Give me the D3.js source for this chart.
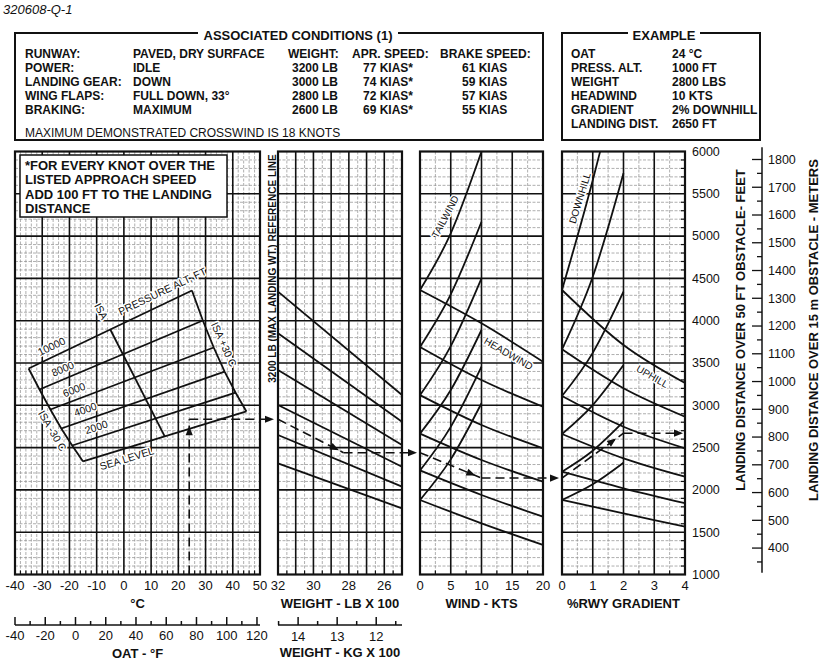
<!DOCTYPE html>
<html><head><meta charset="utf-8">
<script src="https://cdn.jsdelivr.net/npm/d3@7"></script>
<style>
body{margin:0;background:#fff;}
svg{display:block;font-family:"Liberation Sans",Arial,Helvetica,sans-serif;}
</style></head><body>
<svg id="c" width="820" height="660"></svg>
<script>
// ================= DATA =================
const chartId = "320608-Q-1";
const condLabels = ["RUNWAY:", "POWER:", "LANDING GEAR:", "WING FLAPS:", "BRAKING:"];
const condValues = ["PAVED, DRY SURFACE", "IDLE", "DOWN", "FULL DOWN, 33°", "MAXIMUM"];
const weightRows = ["3200 LB", "3000 LB", "2800 LB", "2600 LB"];
const aprSpeeds = ["77 KIAS*", "74 KIAS*", "72 KIAS*", "69 KIAS*"];
const brakeSpeeds = ["61 KIAS", "59 KIAS", "57 KIAS", "55 KIAS"];
const exampleLabels = ["OAT", "PRESS. ALT.", "WEIGHT", "HEADWIND", "GRADIENT", "LANDING DIST."];
const exampleValues = ["24 °C", "1000 FT", "2800 LBS", "10 KTS", "2% DOWNHILL", "2650 FT"];
const noteLines = ["*FOR EVERY KNOT OVER THE", "LISTED APPROACH SPEED", "ADD 100 FT TO THE LANDING", "DISTANCE"];

const tempTicks = [-40, -30, -20, -10, 0, 10, 20, 30, 40, 50];          // °C
const oatFTicks = [-40, -20, 0, 20, 40, 60, 80, 100, 120];              // °F labels
const weightTicks = [32, 30, 28, 26];                                    // LB x 100
const kgTicks = [14, 13, 12];                                            // KG x 100
const windTicks = [0, 5, 10, 15, 20];
const gradTicks = [0, 1, 2, 3, 4];
const feetTicks = [1000, 1500, 2000, 2500, 3000, 3500, 4000, 4500, 5000, 5500, 6000];
const meterTicks = [400, 500, 600, 700, 800, 900, 1000, 1100, 1200, 1300, 1400, 1500, 1600, 1700, 1800];

// pressure altitude lines: [ISA-30 end] -> [ISA+30 end] as (°C, ft)
const altNames = ["SEA LEVEL", "2000", "4000", "6000", "8000", "10000"];
const altLeftTemp = [-15, -19, -23, -27, -31, -35];
const altLeftFt = [2336, 2525, 2726, 2950, 3187, 3435];
const altRightTemp = [45, 41, 37, 33, 29, 25];
const altRightFt = [2927, 3151, 3399, 3683, 4002, 4357];
const isaTemp = [-5, 15];
const isaFt = [3896, 2632];

// weight guide lines (ft at 3200 lb, ft at 2500 lb)
const weightEnds = [3200, 2500];
const weightLines = [[4343, 3122], [3851, 2806], [3417, 2531], [3004, 2274], [2649, 2038], [2314, 1782]];

// wind guide lines: headwind at 0/10/20 kts, tailwind at 0/5/10 kts
const headKts = [0, 10, 20];
const headwind = [[4363, 3969, 3515], [3690, 3299, 2983], [3120, 2767, 2492], [2665, 2353, 2097], [2230, 1940, 1683], [1881, 1605, 1349]];
const tailKts = [0, 5, 10];
const tailwind = [[4363, 5033, 6000], [3690, 4312, 5170], [3120, 3700, 4501], [2665, 3180, 3890], [2230, 2745, 3456], [1881, 2361, 3024]];

// runway gradient guide lines: uphill at 0/2/4 %, downhill (pct, ft)
const upPct = [0, 2, 4];
const uphill = [[4363, 3713, 3264], [3662, 3201, 2865], [3110, 2747, 2492], [2661, 2373, 2156], [2215, 2019, 1842], [1881, 1723, 1565]];
const downhill = [
  [[0, 4363], [1, 5660], [1.24, 6000]],
  [[0, 3662], [1, 4520], [2, 5742]],
  [[0, 3110], [1, 3620], [2, 4343]],
  [[0, 2661], [1, 3003], [2, 3476]],
  [[0, 2215], [1, 2463], [2, 2806]],
  [[0, 1881], [1, 2066], [2, 2321]]
];

// example path
const exOAT = 24, exWeight = 2830, exWind = 10, exGrad = 2;
const exFt = [2835, 2440, 2140, 2670];

// ================= SCALES =================
const svg = d3.select("#c");
const yFt = d3.scaleLinear([1000, 6000], [574.5, 151.5]);
const xT = d3.scaleLinear([-40, 50], [15, 260]);
const xW = d3.scaleLinear([3200, 2500], [278, 402]);
const xK = d3.scaleLinear([0, 20], [420, 543]);
const xG = d3.scaleLinear([0, 4], [562, 685]);
const yTop = yFt(6000), yBot = yFt(1000);

function txt(g, x, y, s, o = {}) {
  const t = g.append("text").attr("x", x).attr("y", y).text(s)
    .attr("font-size", o.size || 12).attr("font-weight", o.bold ? "bold" : "normal")
    .attr("text-anchor", o.anchor || "start").attr("fill", "#111");
  if (o.italic) t.attr("font-style", "italic");
  if (o.dy) t.attr("dy", o.dy);
  if (o.rot !== undefined) t.attr("transform", `rotate(${o.rot},${x},${y})`);
  if (o.halo) t.attr("stroke", "#fff").attr("stroke-width", o.halo).attr("paint-order", "stroke").attr("stroke-linejoin", "round");
  return t;
}

// ================= HEADER =================
txt(svg, 3, 14, chartId, {size: 13, italic: true});

const hdr = svg.append("g");
hdr.append("rect").attr("x", 15).attr("y", 33).attr("width", 528).attr("height", 107)
  .attr("fill", "none").attr("stroke", "#111").attr("stroke-width", 2);
hdr.append("rect").attr("x", 198).attr("y", 28).attr("width", 200).attr("height", 10).attr("fill", "#fff");
txt(hdr, 298, 39.5, "ASSOCIATED CONDITIONS (1)", {size: 13, bold: true, anchor: "middle"});
const rowY = i => 57.5 + i * 14;
condLabels.forEach((s, i) => txt(hdr, 25, rowY(i), s, {bold: true}));
condValues.forEach((s, i) => txt(hdr, 133, rowY(i), s, {bold: true}));
txt(hdr, 288, rowY(0), "WEIGHT:", {bold: true});
txt(hdr, 352, rowY(0), "APR. SPEED:", {bold: true});
txt(hdr, 440, rowY(0), "BRAKE SPEED:", {bold: true});
weightRows.forEach((s, i) => txt(hdr, 292, rowY(i + 1), s, {bold: true}));
aprSpeeds.forEach((s, i) => txt(hdr, 363, rowY(i + 1), s, {bold: true}));
brakeSpeeds.forEach((s, i) => txt(hdr, 462, rowY(i + 1), s, {bold: true}));
txt(hdr, 25, 136.5, "MAXIMUM DEMONSTRATED CROSSWIND IS 18 KNOTS", {size: 12});

hdr.append("rect").attr("x", 562).attr("y", 33).attr("width", 198).attr("height", 107)
  .attr("fill", "none").attr("stroke", "#111").attr("stroke-width", 2);
hdr.append("rect").attr("x", 628).attr("y", 28).attr("width", 72).attr("height", 10).attr("fill", "#fff");
txt(hdr, 664, 39.5, "EXAMPLE", {size: 13, bold: true, anchor: "middle"});
exampleLabels.forEach((s, i) => txt(hdr, 571, rowY(i), s, {bold: true}));
exampleValues.forEach((s, i) => txt(hdr, 672, rowY(i), s, {bold: true}));

// ================= GRIDS =================
const hMinor = d3.range(1100, 6000, 100).filter(v => v % 500 !== 0);
const hMajor = d3.range(1500, 6000, 500);

function panel(x, vMajor, vMinor, tickPos) {
  const g = svg.append("g");
  const [x0, x1] = x.range();
  const minorStyle = s => s.attr("stroke", "#8c8c8c").attr("stroke-width", 0.7).attr("stroke-dasharray", "3,1.5");
  minorStyle(g.selectAll(null).data(vMinor).join("line")
    .attr("x1", d => x(d)).attr("x2", d => x(d)).attr("y1", yTop).attr("y2", yBot));
  minorStyle(g.selectAll(null).data(hMinor).join("line")
    .attr("x1", x0).attr("x2", x1).attr("y1", d => yFt(d)).attr("y2", d => yFt(d)));
  g.selectAll(null).data(tickPos).join("line")
    .attr("x1", d => x(d)).attr("x2", d => x(d)).attr("y1", yBot).attr("y2", yBot - 4)
    .attr("stroke", "#111").attr("stroke-width", 1.2);
  g.selectAll(null).data(vMajor).join("line")
    .attr("x1", d => x(d)).attr("x2", d => x(d)).attr("y1", yTop).attr("y2", yBot)
    .attr("stroke", "#111").attr("stroke-width", 1.6);
  g.selectAll(null).data(hMajor).join("line")
    .attr("x1", x0).attr("x2", x1).attr("y1", d => yFt(d)).attr("y2", d => yFt(d))
    .attr("stroke", "#111").attr("stroke-width", 1.6);
  return g;
}
const tMinor = d3.range(-38, 50, 2).filter(v => v % 10 !== 0);
panel(xT, d3.range(-30, 50, 10), tMinor, tMinor);
const wMinor = d3.range(3150, 2500, -100);
panel(xW, d3.range(3100, 2500, -100), wMinor, wMinor);
panel(xK, [5, 10, 15], [2.5, 7.5, 12.5, 17.5], [2.5, 7.5, 12.5, 17.5]);
panel(xG, [1, 2, 3], [0.5, 1.5, 2.5, 3.5], [0.5, 1.5, 2.5, 3.5]);
// feet ticks on right edge of gradient panel
svg.append("g").selectAll(null).data(hMinor).join("line")
  .attr("x1", xG(4)).attr("x2", xG(4) - 4).attr("y1", d => yFt(d)).attr("y2", d => yFt(d))
  .attr("stroke", "#111").attr("stroke-width", 1.2);

// note box
const note = svg.append("g");
note.append("rect").attr("x", 20).attr("y", 155).attr("width", 207).attr("height", 62)
  .attr("fill", "#fff").attr("stroke", "#111").attr("stroke-width", 1.5);
noteLines.forEach((s, i) => txt(note, 25, 169.5 + i * 14.5, s, {size: 13, bold: true}));

// ================= CURVES =================
const cg = svg.append("g").attr("fill", "none").attr("stroke", "#111").attr("stroke-width", 1.8);
const line = d3.line().curve(d3.curveMonotoneX);
const lin = d3.line();

altNames.forEach((n, i) => {
  cg.append("path").attr("d", lin([[xT(altLeftTemp[i]), yFt(altLeftFt[i])], [xT(altRightTemp[i]), yFt(altRightFt[i])]]));
});
cg.append("path").attr("d", lin(altLeftTemp.map((t, i) => [xT(t), yFt(altLeftFt[i])])));
cg.append("path").attr("d", lin(altRightTemp.map((t, i) => [xT(t), yFt(altRightFt[i])])));
cg.append("path").attr("d", lin(isaTemp.map((t, i) => [xT(t), yFt(isaFt[i])])));

weightLines.forEach(l => cg.append("path").attr("d", lin(l.map((f, j) => [xW(weightEnds[j]), yFt(f)]))));
headwind.forEach(l => cg.append("path").attr("d", line(l.map((f, j) => [xK(headKts[j]), yFt(f)]))));
tailwind.forEach(l => cg.append("path").attr("d", line(l.map((f, j) => [xK(tailKts[j]), yFt(f)]))));
uphill.forEach(l => cg.append("path").attr("d", line(l.map((f, j) => [xG(upPct[j]), yFt(f)]))));
downhill.forEach(l => cg.append("path").attr("d", line(l.map(p => [xG(p[0]), yFt(p[1])]))));

// ================= LABELS IN CHART =================
const lg = svg.append("g");
const deg = 180 / Math.PI;
function altPt(i, t) {
  const f = (t - altLeftTemp[i]) / (altRightTemp[i] - altLeftTemp[i]);
  return [xT(t), yFt(altLeftFt[i] + f * (altRightFt[i] - altLeftFt[i]))];
}
function altAng(i) {
  const a = altPt(i, altLeftTemp[i]), b = altPt(i, altRightTemp[i]);
  return Math.atan2(b[1] - a[1], b[0] - a[0]);
}
function alongLabel(p, a, off, s, size) {
  const x = p[0] + off * Math.sin(a), y = p[1] - off * Math.cos(a);
  txt(lg, x, y, s, {size: size || 10.5, anchor: "middle", dy: "0.35em", rot: a * deg, halo: 3});
}
const altLabelT = [0, -9, -13, -17, -21, -25];
altNames.forEach((n, i) => alongLabel(altPt(i, altLabelT[i]), altAng(i), i === 0 ? -10 : 10, n));
alongLabel(altPt(5, 16), altAng(5), 12, "PRESSURE ALT, FT");

function edgeLabel(p0, p1, frac, off, s) {
  const a = Math.atan2(p1[1] - p0[1], p1[0] - p0[0]);
  const p = [p0[0] + frac * (p1[0] - p0[0]), p0[1] + frac * (p1[1] - p0[1])];
  const x = p[0] + off * Math.sin(a), y = p[1] - off * Math.cos(a);
  txt(lg, x, y, s, {size: 10.5, anchor: "middle", dy: "0.35em", rot: a * deg, halo: 3});
}
const L0 = [xT(altLeftTemp[5]), yFt(altLeftFt[5])], L1 = [xT(altLeftTemp[0]), yFt(altLeftFt[0])];
const R0 = [xT(altRightTemp[5]), yFt(altRightFt[5])], R1 = [xT(altRightTemp[0]), yFt(altRightFt[0])];
const I0 = [xT(isaTemp[0]), yFt(isaFt[0])], I1 = [xT(isaTemp[1]), yFt(isaFt[1])];
edgeLabel(L0, L1, 0.61, -11, "ISA -30 C");
edgeLabel(R0, R1, 0.47, 7, "ISA +30 C");
edgeLabel(I0, I1, -0.17, 0, "ISA");

txt(lg, xK(4.1), yFt(5230), "TAILWIND", {size: 10, anchor: "middle", dy: "0.35em", rot: -62, halo: 3});
txt(lg, xK(14.4), yFt(3610), "HEADWIND", {size: 10, anchor: "middle", dy: "0.35em", rot: 30, halo: 3});
txt(lg, xG(0.58), yFt(5450), "DOWNHILL", {size: 10, anchor: "middle", dy: "0.35em", rot: -73, halo: 3});
txt(lg, xG(2.94), yFt(3340), "UPHILL", {size: 10, anchor: "middle", dy: "0.35em", rot: 30, halo: 3});

txt(lg, 276, 268.5, "3200 LB (MAX LANDING WT.) REFERENCE LINE", {size: 10, bold: true, anchor: "middle", rot: -90});

// ================= FRAMES =================
const fg = svg.append("g").attr("fill", "none").attr("stroke", "#111").attr("stroke-width", 2.2);
[xT, xW, xK, xG].forEach(x => {
  const [x0, x1] = x.range();
  fg.append("rect").attr("x", x0).attr("y", yTop).attr("width", x1 - x0).attr("height", yBot - yTop);
});

// ================= EXAMPLE PATH =================
const eg = svg.append("g");
function dashed(p, q) {
  eg.append("path").attr("d", lin([p, q])).attr("fill", "none").attr("stroke", "#111")
    .attr("stroke-width", 1.6).attr("stroke-dasharray", "9,5");
}
function arrowHead(p, tip) {
  const a = Math.atan2(tip[1] - p[1], tip[0] - p[0]), L = 9, W = 3.6;
  const bx = tip[0] - L * Math.cos(a), by = tip[1] - L * Math.sin(a);
  eg.append("path").attr("d", `M${tip[0]},${tip[1]}L${bx - W * Math.sin(a)},${by + W * Math.cos(a)}L${bx + W * Math.sin(a)},${by - W * Math.cos(a)}Z`)
    .attr("fill", "#111");
}
function along(p, q, f) { return [p[0] + f * (q[0] - p[0]), p[1] + f * (q[1] - p[1])]; }

const a0 = [xT(exOAT), yFt(1000)], a1 = [xT(exOAT), yFt(exFt[0])];
dashed(a0, a1); arrowHead(a0, [a1[0], a1[1] + 7]);
dashed(a1, [xW(3200) - 6, a1[1]]); arrowHead(a1, [xW(3200) - 4, a1[1]]);

const b0 = [xW(3200), yFt(exFt[0])], b1 = [xW(exWeight), yFt(exFt[1])];
dashed(b0, b1); arrowHead(b0, along(b0, b1, 0.93));
dashed(b1, [xK(0) - 6, b1[1]]); arrowHead(b1, [xK(0) - 3, b1[1]]);

const c0 = [xK(0), yFt(exFt[1])], c1 = [xK(exWind), yFt(exFt[2])];
dashed(c0, c1); arrowHead(c0, along(c0, c1, 0.9));
dashed(c1, [xG(0) - 6, c1[1]]); arrowHead(c1, [xG(0) - 3, c1[1]]);

const d0 = [xG(0), yFt(exFt[2])], d1 = [xG(exGrad), yFt(exFt[3])];
dashed(d0, d1); arrowHead(d0, along(d0, d1, 0.88));
dashed(d1, [xG(4) - 4, d1[1]]); arrowHead(d1, [xG(4) - 2, d1[1]]);

// ================= AXES =================
const ag = svg.append("g");
const labY = 589.5;
tempTicks.forEach(v => txt(ag, xT(v), labY, String(v), {size: 13, anchor: "middle"}));
txt(ag, xT(5), 608, "°C", {size: 13, bold: true, anchor: "middle"});
weightTicks.forEach(v => txt(ag, xW(v * 100), labY, String(v), {size: 13, anchor: "middle"}));
txt(ag, 340, 608, "WEIGHT - LB X 100", {size: 13, bold: true, anchor: "middle"});
windTicks.forEach(v => txt(ag, xK(v), labY, String(v), {size: 13, anchor: "middle"}));
txt(ag, xK(10), 608, "WIND - KTS", {size: 13, bold: true, anchor: "middle"});
gradTicks.forEach(v => txt(ag, xG(v), labY, String(v), {size: 13, anchor: "middle"}));
txt(ag, xG(2), 608, "%RWY GRADIENT", {size: 13, bold: true, anchor: "middle"});

// °F axis
const fToX = f => xT((f - 32) * 5 / 9);
const axY = 625;
ag.append("line").attr("x1", xT(-40)).attr("x2", xT(50)).attr("y1", axY).attr("y2", axY).attr("stroke", "#111").attr("stroke-width", 1.5);
d3.range(-40, 121, 10).forEach(f => {
  const big = f % 20 === 0;
  ag.append("line").attr("x1", fToX(f)).attr("x2", fToX(f)).attr("y1", axY).attr("y2", axY - (big ? 8 : 4)).attr("stroke", "#111").attr("stroke-width", 1.5);
});
oatFTicks.forEach(f => txt(ag, fToX(f), 640, String(f), {size: 13, anchor: "middle"}));
txt(ag, xT(5), 658, "OAT - °F", {size: 13, bold: true, anchor: "middle"});

// KG axis
const kgToX = k => xW(k * 100 * 2.20462);
ag.append("line").attr("x1", xW(3200)).attr("x2", xW(2500)).attr("y1", axY).attr("y2", axY).attr("stroke", "#111").attr("stroke-width", 1.5);
d3.range(14.5, 11.4, -0.5).forEach(k => {
  const big = Math.abs(k - Math.round(k)) < 0.01;
  ag.append("line").attr("x1", kgToX(k)).attr("x2", kgToX(k)).attr("y1", axY).attr("y2", axY - (big ? 8 : 4)).attr("stroke", "#111").attr("stroke-width", 1.5);
});
kgTicks.forEach(k => txt(ag, kgToX(k), 641, String(k), {size: 13, anchor: "middle"}));
txt(ag, 340, 657, "WEIGHT - KG X 100", {size: 13, bold: true, anchor: "middle"});

// feet axis labels
feetTicks.forEach(v => txt(ag, 692, yFt(v), String(v), {size: 12.5, dy: "0.35em"}));
txt(ag, 744.5, 330, "LANDING DISTANCE OVER 50 FT OBSTACLE- FEET", {size: 13, bold: true, anchor: "middle", rot: -90});

// meters axis
const mToY = m => yFt(m * 3.28084);
const mx = 762;
ag.append("line").attr("x1", mx).attr("x2", mx).attr("y1", yFt(6050)).attr("y2", yFt(1020)).attr("stroke", "#111").attr("stroke-width", 1.5);
d3.range(350, 1801, 50).forEach(m => {
  const big = m % 100 === 0;
  ag.append("line").attr("x1", mx).attr("x2", mx - (big ? 10 : 5)).attr("y1", mToY(m)).attr("y2", mToY(m)).attr("stroke", "#111").attr("stroke-width", 1.3);
});
meterTicks.forEach(m => txt(ag, 768, mToY(m), String(m), {size: 12.5, dy: "0.35em"}));
txt(ag, 818, 330, "LANDING DISTANCE OVER 15 m OBSTACLE - METERS", {size: 13, bold: true, anchor: "middle", rot: -90});
</script>
</body></html>
